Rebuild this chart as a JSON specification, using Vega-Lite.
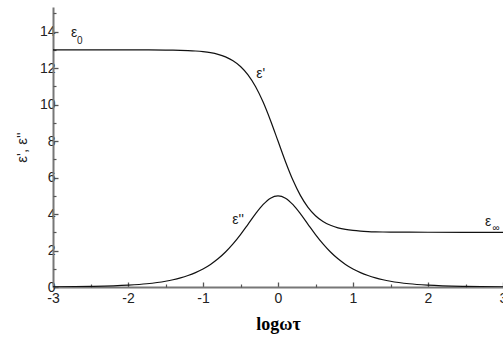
{
  "$schema": "https://vega.github.io/schema/vega-lite/v6.json",
  "width": 450,
  "height": 280,
  "autosize": {"type": "none"},
  "padding": {"left": 53, "top": 7, "right": 0, "bottom": 50},
  "background": "white",
  "config": {"view": {"stroke": null}, "font": "Liberation Sans"},
  "resolve": {"axis": {"x": "independent", "y": "independent"}},
  "datasets": {
    "curves": [
      {"logwt": -3.0, "series": "e1", "eps": 13.0},
      {"logwt": -2.5, "series": "e1", "eps": 12.9999},
      {"logwt": -2.0, "series": "e1", "eps": 12.999},
      {"logwt": -1.75, "series": "e1", "eps": 12.9968},
      {"logwt": -1.5, "series": "e1", "eps": 12.99},
      {"logwt": -1.4, "series": "e1", "eps": 12.984},
      {"logwt": -1.3, "series": "e1", "eps": 12.975},
      {"logwt": -1.2, "series": "e1", "eps": 12.96},
      {"logwt": -1.1, "series": "e1", "eps": 12.937},
      {"logwt": -1.0, "series": "e1", "eps": 12.901},
      {"logwt": -0.9, "series": "e1", "eps": 12.844},
      {"logwt": -0.8, "series": "e1", "eps": 12.755},
      {"logwt": -0.7, "series": "e1", "eps": 12.617},
      {"logwt": -0.6, "series": "e1", "eps": 12.406},
      {"logwt": -0.5, "series": "e1", "eps": 12.091},
      {"logwt": -0.4, "series": "e1", "eps": 11.632},
      {"logwt": -0.3, "series": "e1", "eps": 10.992},
      {"logwt": -0.2, "series": "e1", "eps": 10.153},
      {"logwt": -0.1, "series": "e1", "eps": 9.131},
      {"logwt": 0.0, "series": "e1", "eps": 8.0},
      {"logwt": 0.1, "series": "e1", "eps": 6.869},
      {"logwt": 0.2, "series": "e1", "eps": 5.847},
      {"logwt": 0.3, "series": "e1", "eps": 5.008},
      {"logwt": 0.4, "series": "e1", "eps": 4.368},
      {"logwt": 0.5, "series": "e1", "eps": 3.909},
      {"logwt": 0.6, "series": "e1", "eps": 3.594},
      {"logwt": 0.7, "series": "e1", "eps": 3.383},
      {"logwt": 0.8, "series": "e1", "eps": 3.245},
      {"logwt": 0.9, "series": "e1", "eps": 3.156},
      {"logwt": 1.0, "series": "e1", "eps": 3.099},
      {"logwt": 1.1, "series": "e1", "eps": 3.063},
      {"logwt": 1.2, "series": "e1", "eps": 3.04},
      {"logwt": 1.3, "series": "e1", "eps": 3.025},
      {"logwt": 1.4, "series": "e1", "eps": 3.016},
      {"logwt": 1.5, "series": "e1", "eps": 3.01},
      {"logwt": 1.75, "series": "e1", "eps": 3.0032},
      {"logwt": 2.0, "series": "e1", "eps": 3.001},
      {"logwt": 2.5, "series": "e1", "eps": 3.0001},
      {"logwt": 3.0, "series": "e1", "eps": 3.0},
      {"logwt": -3.0, "series": "e2", "eps": 0.01},
      {"logwt": -2.5, "series": "e2", "eps": 0.0316},
      {"logwt": -2.0, "series": "e2", "eps": 0.1},
      {"logwt": -1.75, "series": "e2", "eps": 0.1778},
      {"logwt": -1.5, "series": "e2", "eps": 0.3159},
      {"logwt": -1.4, "series": "e2", "eps": 0.3975},
      {"logwt": -1.3, "series": "e2", "eps": 0.4999},
      {"logwt": -1.2, "series": "e2", "eps": 0.6285},
      {"logwt": -1.1, "series": "e2", "eps": 0.7893},
      {"logwt": -1.0, "series": "e2", "eps": 0.99},
      {"logwt": -0.9, "series": "e2", "eps": 1.2393},
      {"logwt": -0.8, "series": "e2", "eps": 1.5461},
      {"logwt": -0.7, "series": "e2", "eps": 1.9189},
      {"logwt": -0.6, "series": "e2", "eps": 2.3628},
      {"logwt": -0.5, "series": "e2", "eps": 2.8748},
      {"logwt": -0.4, "series": "e2", "eps": 3.4365},
      {"logwt": -0.3, "series": "e2", "eps": 4.0057},
      {"logwt": -0.2, "series": "e2", "eps": 4.513},
      {"logwt": -0.1, "series": "e2", "eps": 4.8703},
      {"logwt": 0.0, "series": "e2", "eps": 5.0},
      {"logwt": 0.1, "series": "e2", "eps": 4.8703},
      {"logwt": 0.2, "series": "e2", "eps": 4.513},
      {"logwt": 0.3, "series": "e2", "eps": 4.0057},
      {"logwt": 0.4, "series": "e2", "eps": 3.4365},
      {"logwt": 0.5, "series": "e2", "eps": 2.8748},
      {"logwt": 0.6, "series": "e2", "eps": 2.3628},
      {"logwt": 0.7, "series": "e2", "eps": 1.9189},
      {"logwt": 0.8, "series": "e2", "eps": 1.5461},
      {"logwt": 0.9, "series": "e2", "eps": 1.2393},
      {"logwt": 1.0, "series": "e2", "eps": 0.99},
      {"logwt": 1.1, "series": "e2", "eps": 0.7893},
      {"logwt": 1.2, "series": "e2", "eps": 0.6285},
      {"logwt": 1.3, "series": "e2", "eps": 0.4999},
      {"logwt": 1.4, "series": "e2", "eps": 0.3975},
      {"logwt": 1.5, "series": "e2", "eps": 0.3159},
      {"logwt": 1.75, "series": "e2", "eps": 0.1778},
      {"logwt": 2.0, "series": "e2", "eps": 0.1},
      {"logwt": 2.5, "series": "e2", "eps": 0.0316},
      {"logwt": 3.0, "series": "e2", "eps": 0.01}
    ],
    "labels": [
      {"logwt": -2.76, "eps": 13.9, "text": "ε"},
      {"logwt": -0.29, "eps": 11.7, "text": "ε'"},
      {"logwt": -0.61, "eps": 3.7, "text": "ε''"},
      {"logwt": 2.76, "eps": 3.59, "text": "ε"}
    ],
    "subs": [
      {"logwt": -2.68, "eps": 13.5, "text": "0"},
      {"logwt": 2.86, "eps": 3.26, "text": "∞"}
    ]
  },
  "layer": [
    {
      "data": {"name": "curves"},
      "mark": {"type": "line", "color": "#111111", "strokeWidth": 1.2, "interpolate": "monotone", "clip": true},
      "encoding": {
        "x": {
          "field": "logwt", "type": "quantitative",
          "scale": {"domain": [-3, 3], "nice": false, "zero": false},
          "axis": {
            "orient": "bottom",
            "title": "logωτ",
            "titleFont": "Liberation Serif", "titleFontSize": 18, "titleFontWeight": "bold", "titleColor": "#000000",
            "titlePadding": 10,
            "values": [-3, -2, -1, 0, 1, 2, 3],
            "labelExpr": "'' + datum.value",
            "labelFontSize": 14, "labelColor": "#222222", "labelFont": "Liberation Sans",
            "labelPadding": 9, "labelOverlap": false, "labelFlush": false,
            "grid": false,
            "domainColor": "#777777", "domainWidth": 2,
            "tickColor": "#555555", "tickWidth": 1.3, "tickSize": -5
          }
        },
        "y": {
          "field": "eps", "type": "quantitative",
          "scale": {"domain": [0, 15.35], "nice": false},
          "axis": {
            "orient": "left",
            "title": "ε', ε''",
            "titleFont": "Liberation Sans", "titleFontSize": 15, "titleFontWeight": "normal", "titleColor": "#222222",
            "titlePadding": 10,
            "values": [0, 2, 4, 6, 8, 10, 12, 14],
            "labelExpr": "'' + datum.value",
            "labelFontSize": 14, "labelColor": "#222222", "labelFont": "Liberation Sans",
            "labelPadding": 3, "labelOverlap": false,
            "grid": false,
            "domainColor": "#777777", "domainWidth": 2,
            "tickColor": "#555555", "tickWidth": 1.3, "tickSize": -5
          }
        },
        "detail": {"field": "series", "type": "nominal"}
      }
    },
    {
      "data": {"name": "labels"},
      "mark": {"type": "text", "font": "Liberation Sans", "fontSize": 14, "color": "#222222", "align": "left", "baseline": "middle"},
      "encoding": {
        "x": {
          "field": "logwt", "type": "quantitative",
          "axis": {
            "orient": "bottom", "title": null, "labels": false, "domain": false, "grid": false,
            "values": [-2.5, -1.5, -0.5, 0.5, 1.5, 2.5],
            "tickColor": "#555555", "tickWidth": 1.2, "tickSize": -3
          }
        },
        "y": {
          "field": "eps", "type": "quantitative",
          "axis": {
            "orient": "left", "title": null, "labels": false, "domain": false, "grid": false,
            "values": [1, 3, 5, 7, 9, 11, 13, 15],
            "tickColor": "#555555", "tickWidth": 1.2, "tickSize": -3
          }
        },
        "text": {"field": "text"}
      }
    },
    {
      "data": {"name": "subs"},
      "mark": {"type": "text", "font": "Liberation Sans", "fontSize": 10, "color": "#222222", "align": "left", "baseline": "middle"},
      "encoding": {
        "x": {"field": "logwt", "type": "quantitative", "axis": null},
        "y": {"field": "eps", "type": "quantitative", "axis": null},
        "text": {"field": "text"}
      }
    }
  ]
}
